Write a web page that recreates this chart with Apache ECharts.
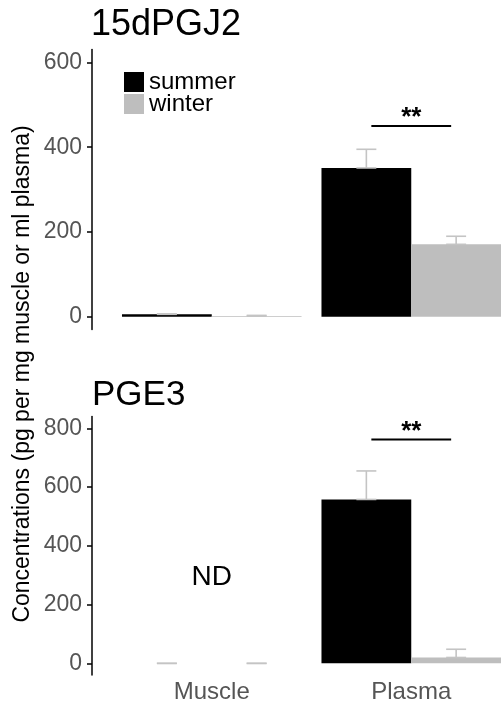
<!DOCTYPE html>
<html><head><meta charset="utf-8">
<script src="https://cdn.jsdelivr.net/npm/echarts@6/dist/echarts.min.js"></script>
<style>html,body{margin:0;padding:0;background:#fff}#c{width:501px;height:705px}</style>
</head><body><div id="c"></div>
<script>
const categories = ['Muscle', 'Plasma'];
const seriesNames = ['summer', 'winter'];
const panelTitles = ['15dPGJ2', 'PGE3'];
// 15dPGJ2 (means and standard errors)
const pgj2Summer = [6, 351];
const pgj2SummerSE = [1, 44];
const pgj2Winter = [2, 171];
const pgj2WinterSE = [1.5, 19];
// PGE3 (muscle not detected)
const pge3Summer = [0, 558];
const pge3SummerSE = [0, 97];
const pge3Winter = [0, 20];
const pge3WinterSE = [0, 28];
// axes
const pgj2Ticks = [0, 200, 400, 600];
const pge3Ticks = [0, 200, 400, 600, 800];
const pgj2Range = [-30, 630];
const pge3Range = [-40, 840];
// annotations
const sigCategory = 1;
const sigY = [450, 762];
const sigLabel = '**';
const ndLabel = 'ND';
const ndCategory = 0;
const ndY = 292;
const yTitle = 'Concentrations (pg per mg muscle or ml plasma)';

const FONT = 'Liberation Sans, Arial, sans-serif';
const SUMMER = '#000000';
const WINTER = '#bebebe';
const ERR = '#c4c4c4';

function errRender(sign) {
  return function (params, api) {
    const i = api.value(0), m = api.value(1), s = api.value(2);
    const band = api.size([1, 0])[0];
    const p0 = api.coord([i, m]);
    const p1 = api.coord([i, m + s]);
    const x = p0[0] + sign * band * 0.225;
    const h = band * 0.05;
    const st = { stroke: ERR, lineWidth: 1.6 };
    return { type: 'group', children: [
      { type: 'line', shape: { x1: x, y1: p0[1], x2: x, y2: p1[1] }, style: st },
      { type: 'line', shape: { x1: x - h, y1: p1[1], x2: x + h, y2: p1[1] }, style: st },
      { type: 'line', shape: { x1: x - h, y1: p0[1], x2: x + h, y2: p0[1] }, style: st }
    ] };
  };
}
function sigRender(params, api) {
  const p = api.coord([api.value(0), api.value(1)]);
  const band = api.size([1, 0])[0];
  const h = band * 0.2;
  return { type: 'group', children: [
    { type: 'line', shape: { x1: p[0] - h, y1: p[1], x2: p[0] + h, y2: p[1] }, style: { stroke: '#000', lineWidth: 2 } },
    { type: 'text', x: p[0], y: p[1] - 8, style: { text: sigLabel, fontSize: 26, fontWeight: 'bold', fontFamily: FONT, fill: '#000', align: 'center', verticalAlign: 'middle' } }
  ] };
}
function ndRender(params, api) {
  const p = api.coord([api.value(0), api.value(1)]);
  return { type: 'text', x: p[0], y: p[1], style: { text: ndLabel, fontSize: 28, fontFamily: FONT, fill: '#000', align: 'center', verticalAlign: 'middle' } };
}
function zipErr(v, e) { return v.map((x, i) => [i, x, e[i]]); }

function yAxisCfg(idx, range, ticks) {
  return {
    gridIndex: idx, type: 'value', min: range[0], max: range[1], offset: 20,
    splitLine: { show: false },
    axisLine: { show: true, lineStyle: { color: '#000', width: 1.5 } },
    axisTick: { show: true, length: 5, lineStyle: { color: '#000', width: 1.5 }, customValues: ticks },
    axisLabel: { customValues: ticks, fontSize: 23, color: '#555', margin: 10, fontFamily: FONT }
  };
}
function xAxisCfg(idx, showLabels) {
  return {
    gridIndex: idx, type: 'category', data: categories,
    axisLine: { show: false }, axisTick: { show: false }, splitLine: { show: false },
    axisLabel: { show: showLabels, fontSize: 24, color: '#555', margin: 5, fontFamily: FONT }
  };
}
function barCfg(idx, name, color, data) {
  return { type: 'bar', name: name, xAxisIndex: idx, yAxisIndex: idx, data: data,
    barGap: '0%', barCategoryGap: '10%', itemStyle: { color: color }, z: 2 };
}
function errCfg(idx, sign, data) {
  return { type: 'custom', xAxisIndex: idx, yAxisIndex: idx, renderItem: errRender(sign),
    data: data, encode: { x: 0, y: 1 }, z: 5, silent: true };
}

const chart = echarts.init(document.getElementById('c'), null, { renderer: 'canvas' });
chart.setOption({
  animation: false,
  backgroundColor: '#fff',
  textStyle: { fontFamily: FONT },
  title: [
    { text: panelTitles[0], left: 91, top: 7, padding: 0, textStyle: { fontSize: 36, fontWeight: 'normal', color: '#000', fontFamily: FONT } },
    { text: panelTitles[1], left: 92, top: 378, padding: 0, textStyle: { fontSize: 35, fontWeight: 'normal', color: '#000', fontFamily: FONT } }
  ],
  legend: {
    data: seriesNames, orient: 'vertical', left: 124, top: 70, padding: 0,
    itemWidth: 20, itemHeight: 20, itemGap: -2, icon: 'rect',
    textStyle: { fontSize: 24, lineHeight: 20, color: '#000', fontFamily: FONT }
  },
  grid: [
    { left: 112, top: 49.6, width: 399, height: 280, outerBoundsMode: 'none', containLabel: false },
    { left: 112, top: 416.6, width: 399, height: 258.5, outerBoundsMode: 'none', containLabel: false }
  ],
  xAxis: [xAxisCfg(0, false), xAxisCfg(1, true)],
  yAxis: [yAxisCfg(0, pgj2Range, pgj2Ticks), yAxisCfg(1, pge3Range, pge3Ticks)],
  graphic: [
    { type: 'text', x: 23, y: 374, rotation: Math.PI / 2,
      style: { text: yTitle, fontSize: 23, fill: '#000', align: 'center', verticalAlign: 'middle', fontFamily: FONT } }
  ],
  series: [
    barCfg(0, seriesNames[0], SUMMER, pgj2Summer),
    barCfg(0, seriesNames[1], WINTER, pgj2Winter),
    errCfg(0, -1, zipErr(pgj2Summer, pgj2SummerSE)),
    errCfg(0, 1, zipErr(pgj2Winter, pgj2WinterSE)),
    { type: 'custom', xAxisIndex: 0, yAxisIndex: 0, renderItem: sigRender, data: [[sigCategory, sigY[0]]], encode: { x: 0, y: 1 }, z: 6 },
    barCfg(1, seriesNames[0], SUMMER, pge3Summer),
    barCfg(1, seriesNames[1], WINTER, pge3Winter),
    errCfg(1, -1, zipErr(pge3Summer, pge3SummerSE)),
    errCfg(1, 1, zipErr(pge3Winter, pge3WinterSE)),
    { type: 'custom', xAxisIndex: 1, yAxisIndex: 1, renderItem: sigRender, data: [[sigCategory, sigY[1]]], encode: { x: 0, y: 1 }, z: 6 },
    { type: 'custom', xAxisIndex: 1, yAxisIndex: 1, renderItem: ndRender, data: [[ndCategory, ndY]], encode: { x: 0, y: 1 }, z: 6 }
  ]
});
</script></body></html>
